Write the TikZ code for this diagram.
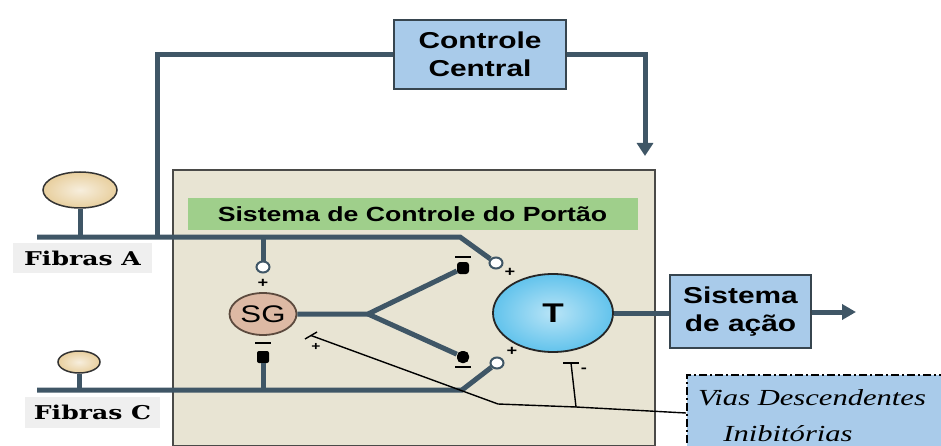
\documentclass[tikz,border=0pt]{standalone}
\usepackage{fontspec}
\setmainfont{Liberation Sans}[FakeStretch=1.3]
\newfontfamily\heavyserif[FakeStretch=1.32]{DejaVu Serif}
\newfontfamily\scriptface[FakeStretch=1.33]{Liberation Serif}
\usetikzlibrary{arrows.meta,shapes.geometric}

\definecolor{nerve}{HTML}{3F5666}
\definecolor{gatefill}{HTML}{E8E4D3}
\definecolor{gateedge}{HTML}{4A4A48}
\definecolor{gatelabel}{HTML}{9FCF8B}
\definecolor{boxblue}{HTML}{A9CBEA}
\definecolor{boxedge}{HTML}{37454F}
\definecolor{sgfill}{HTML}{DDB9A4}
\definecolor{sgedge}{HTML}{5C4A3E}
\definecolor{tfill}{HTML}{62C3EC}
\definecolor{cellfill}{HTML}{E8CF9E}
\definecolor{labelgray}{HTML}{EFEFEF}

\tikzset{
  nervepath/.style={draw=nerve, line width=5pt},
  inhib/.style={draw=black, line width=1.4pt},
  bluebox/.style={draw=boxedge, line width=1.8pt, fill=boxblue, align=center,
    font=\fontsize{23}{29}\selectfont\bfseries, inner sep=0pt},
  cellbody/.style={ellipse, draw=black!80, line width=1.5pt, inner color=cellfill!35, outer color=cellfill, inner sep=0pt},
  opensyn/.style={ellipse, draw=nerve, line width=2pt, fill=white, minimum width=13pt, minimum height=11pt, inner sep=0pt},
  filledsyn/.style={rounded corners=2pt, fill=black, minimum width=12pt, minimum height=12pt, inner sep=0pt},
  signlbl/.style={font=\fontsize{14}{14}\selectfont\bfseries, inner sep=0pt},
  fibrelbl/.style={fill=labelgray, font=\heavyserif\fontsize{19}{20}\selectfont\bfseries, inner sep=0pt},
}

\begin{document}
\begin{tikzpicture}[x=1pt, y=-1pt]
\useasboundingbox (0,0) rectangle (941,446);

% gate-control housing
\draw[fill=gatefill, draw=gateedge, line width=2pt] (173,170) rectangle (655,446);
\node[fill=gatelabel, minimum width=450pt, minimum height=31pt, inner sep=0pt,
      font=\fontsize{20.5}{21}\selectfont\bfseries] (gatetitle) at (412.5,214) {Sistema de Controle do Portão};

% central control
\node[bluebox, minimum width=172pt, minimum height=69pt] (central) at (480,54.5) {Controle\\[-1pt]Central};
\coordinate (aup) at (157,237);
\coordinate (acorner) at (157,55);
\coordinate (outcorner) at (645,55);
\coordinate (downtip) at (645,156);
\draw[nervepath] (aup) -- (acorner) -- (central.west |- acorner);
\draw[nervepath, -{Triangle[length=13pt, width=16pt]}] (central.east |- outcorner) -- (outcorner) -- (downtip);

% peripheral fibres
\node[cellbody, minimum width=74pt, minimum height=36pt] (cellA) at (80,190) {};
\node[cellbody, minimum width=42pt, minimum height=22pt] (cellC) at (79,362) {};
\coordinate (afront) at (37,237);
\coordinate (abend) at (460,237);
\coordinate (cfront) at (37,390);
\coordinate (cbend) at (462,390);
\draw[nervepath] (cellA.south) -- (cellA.south |- afront);
\draw[nervepath] (cellC.south) -- (cellC.south |- cfront);

\node[fibrelbl, minimum width=139pt, minimum height=30pt] (labA) at (82.5,258) {Fibras A};
\node[fibrelbl, minimum width=135pt, minimum height=31pt] (labC) at (92.5,412.5) {Fibras C};

% SG and T cells
\node[ellipse, draw=sgedge, line width=1.8pt, fill=sgfill, minimum width=67pt, minimum height=42pt,
      inner sep=0pt, font=\fontsize{24}{24}\selectfont] (sg) at (263,314) {SG};
\node[ellipse, draw=black!85, line width=1.8pt, inner color=tfill!45, outer color=tfill,
      minimum width=120pt, minimum height=78pt, inner sep=0pt,
      font=\fontsize{27}{27}\selectfont\bfseries] (t) at (553,313) {T};

% synapses
\node[opensyn] (sgtop) at (263,267) {};
\node[filledsyn] (sgbot) at (263,357) {};
\node[opensyn] (ttop) at (496,263) {};
\node[opensyn] (tbot) at (497,363) {};
\node[filledsyn, rounded corners=3pt] (inhtop) at (463,268) {};
\node[filledsyn, rounded corners=5pt] (inhbot) at (463,357) {};
\coordinate (fork) at (368,314);

% fibre A and C routes into the gate
\draw[nervepath] (afront) -- (abend) -- (ttop);
\draw[nervepath] (cfront) -- (cbend) -- (tbot);
\draw[nervepath] (sg.north |- afront) -- (sgtop);
\draw[nervepath] (sgbot) -- (sg.south |- cfront);
\draw[nervepath] (sg.east) -- (fork) -- (inhtop);
\draw[nervepath] (fork) -- (inhbot);

% polarity marks
\node[signlbl] at (263,283) {+};
\draw[line width=2.4pt] (255,343) -- (271,343);
\draw[line width=2.4pt] (455,257) -- (471,257);
\draw[line width=2.4pt] (455,367) -- (471,367);
\node[signlbl] at (510,272) {+};
\node[signlbl] at (512,351) {+};

% action system
\node[bluebox, minimum width=141pt, minimum height=73pt] (acao) at (740.5,311.5) {Sistema\\[-1pt]de ação};
\draw[nervepath] (t.east) -- (acao.west |- t.east);
\coordinate (acaoend) at (856,312);
\draw[nervepath, -{Triangle[length=14pt, width=15pt]}] (acao.east |- acaoend) -- (acaoend);

% descending inhibitory pathways
\node[draw=black, line width=2pt, dash pattern=on 8pt off 3pt on 2pt off 3pt, fill=boxblue,
      minimum width=260pt, minimum height=76pt, inner sep=0pt] (vias) at (817,413) {};
\node[font=\scriptface\fontsize{23}{23}\selectfont\itshape] (viastxt1) at (812,398) {Vias Descendentes};
\node[font=\scriptface\fontsize{23}{23}\selectfont\itshape] (viastxt2) at (788,434) {Inibitórias};

\coordinate (vbend) at (498,404);
\coordinate (vjoin) at (576,407);
\coordinate (sgbar) at (311,335.5);
\coordinate (tbar) at (571,363);
\draw[inhib] (vias.west |- 0,413) -- (vjoin) -- (vbend) -- (sgbar);
\draw[inhib] (vjoin) -- (tbar);
\draw[inhib] (305,339) -- (317,332);
\draw[inhib] (563,363) -- (579,363);
\node[signlbl, font=\fontsize{12}{12}\selectfont\bfseries] at (316,347) {+};
\node[signlbl, font=\fontsize{14}{14}\selectfont\bfseries] at (584,370) {-};
\end{tikzpicture}
\end{document}
